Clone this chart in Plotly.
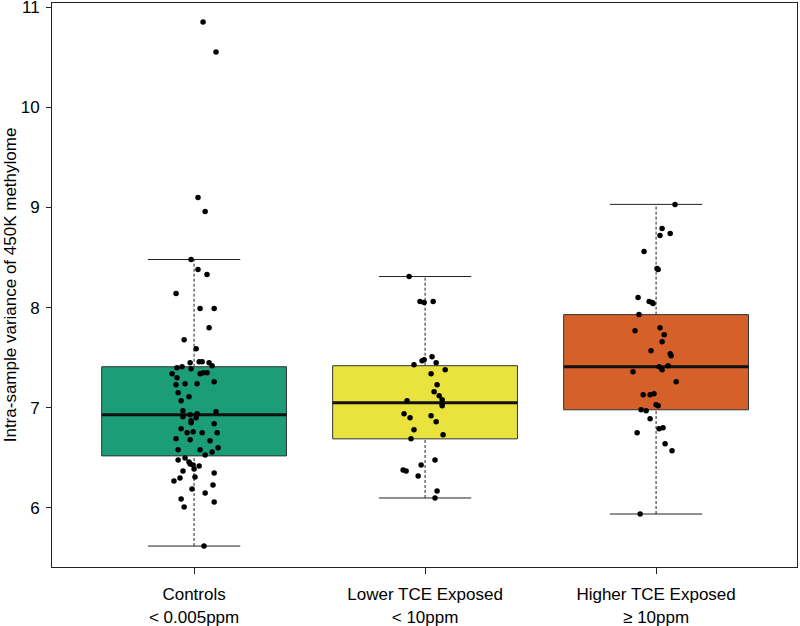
import plotly.graph_objects as go

# ---------------- data ----------------
categories = ["Controls<br>< 0.005ppm", "Lower TCE Exposed<br>< 10ppm", "Higher TCE Exposed<br>≥ 10ppm"]
positions = [1, 2, 3]
box_colors = ["#1B9E77", "#EAE33E", "#D6602A"]

# box statistics
q1_vals = [6.52, 6.69, 6.98]
median_vals = [6.93, 7.05, 7.41]
q3_vals = [7.41, 7.42, 7.93]
lower_whisker = [5.62, 6.10, 5.94]
upper_whisker = [8.48, 8.31, 9.03]

# individual samples (value) and their horizontal jitter (category units)
controls_vals = [10.85, 10.55, 9.10, 8.96, 8.48, 8.38, 8.33, 8.14, 7.99, 7.99, 7.80, 7.68, 7.59,
                 7.46, 7.46, 7.45, 7.45, 7.42, 7.40, 7.41, 7.39, 7.34, 7.30, 7.34, 7.35, 7.35,
                 7.23, 7.24, 7.24, 7.26, 7.15, 7.11, 7.07, 6.97, 6.96, 6.94, 6.93, 6.91, 6.90,
                 6.87, 6.85, 6.84, 6.79, 6.75, 6.76, 6.75, 6.75, 6.69, 6.68, 6.67, 6.60, 6.58,
                 6.58, 6.56, 6.53, 6.48, 6.50, 6.46, 6.44, 6.43, 6.42, 6.39, 6.37, 6.35, 6.31,
                 6.30, 6.27, 6.23, 6.19, 6.15, 6.09, 6.06, 6.01, 5.62]
controls_jit = [0.039, 0.095, 0.017, 0.048, -0.013, 0.017, 0.056, -0.078, 0.026, 0.087, 0.065, -0.043, 0.009,
                0.022, 0.035, -0.017, 0.065, 0.078, -0.074, -0.052, -0.013, -0.095, -0.074, 0.026, 0.039, 0.056,
                -0.078, -0.039, 0.013, 0.087, -0.069, -0.022, -0.056, -0.048, 0.095, 0.013, -0.017, -0.048, 0.009,
                -0.013, -0.013, 0.087, -0.056, -0.030, -0.004, 0.035, 0.100, -0.078, -0.017, 0.069, 0.104, -0.069,
                0.026, 0.078, 0.048, -0.069, -0.039, -0.022, -0.017, -0.004, 0.022, 0.000, -0.048, 0.087, 0.004,
                -0.061, -0.087, 0.082, -0.009, 0.048, -0.056, 0.087, -0.043, 0.043]

lower_vals = [8.31, 8.06, 8.05, 8.06, 7.51, 7.47, 7.48, 7.45, 7.43, 7.38, 7.34, 7.23, 7.16, 7.12,
              7.08, 7.04, 7.02, 7.07, 6.94, 6.90, 6.92, 6.86, 6.78, 6.73, 6.69, 6.48, 6.43, 6.38,
              6.37, 6.32, 6.17, 6.10]
lower_jit = [-0.069, -0.022, -0.004, 0.035, 0.030, -0.013, -0.004, 0.048, -0.048, 0.087, 0.026, 0.052, 0.039, 0.061,
             0.074, 0.074, 0.074, -0.078, -0.091, -0.065, 0.026, 0.048, -0.048, 0.078, -0.061, 0.043, -0.017, -0.095,
             -0.082, -0.030, 0.052, 0.043]

higher_vals = [9.03, 8.79, 8.74, 8.72, 8.56, 8.39, 8.38, 8.10, 8.06, 8.05, 8.04, 7.93, 7.80, 7.77,
               7.73, 7.66, 7.57, 7.54, 7.52, 7.42, 7.41, 7.38, 7.36, 7.26, 7.13, 7.13, 7.14, 7.03,
               7.02, 6.98, 6.97, 6.89, 6.79, 6.80, 6.75, 6.64, 6.57, 5.94]
higher_jit = [0.082, 0.026, 0.061, 0.017, -0.052, 0.004, 0.009, -0.078, -0.030, -0.017, -0.013, -0.074, 0.017, -0.091,
              0.035, 0.026, -0.022, 0.061, 0.065, 0.052, 0.013, 0.026, -0.100, 0.087, -0.056, -0.026, -0.009, 0.000,
              0.009, -0.065, -0.043, -0.026, 0.013, 0.030, -0.082, 0.039, 0.069, -0.069]

y_ticks = [6, 7, 8, 9, 10, 11]
y_title = "Intra-sample variance of 450K methylome"

# ---------------- figure ----------------
FONT = "Liberation Sans, Arial, Helvetica, sans-serif"
box_w = 0.8
cap_w = 0.4

fig = go.Figure()
shapes = []
for pos, col, q1, med, q3, lo, hi in zip(positions, box_colors, q1_vals, median_vals, q3_vals,
                                         lower_whisker, upper_whisker):
    # whiskers (dashed)
    shapes.append(dict(type="line", xref="x", yref="y", x0=pos, x1=pos, y0=q3, y1=hi,
                       line=dict(color="#222", width=1, dash="3px,2px"), layer="below"))
    shapes.append(dict(type="line", xref="x", yref="y", x0=pos, x1=pos, y0=lo, y1=q1,
                       line=dict(color="#222", width=1, dash="3px,2px"), layer="below"))
    # staples
    for v in (lo, hi):
        shapes.append(dict(type="line", xref="x", yref="y", x0=pos - cap_w / 2, x1=pos + cap_w / 2,
                           y0=v, y1=v, line=dict(color="#222", width=1), layer="below"))
    # box
    shapes.append(dict(type="rect", xref="x", yref="y", x0=pos - box_w / 2, x1=pos + box_w / 2,
                       y0=q1, y1=q3, fillcolor=col, line=dict(color="#333", width=1), layer="below"))
    # median
    shapes.append(dict(type="line", xref="x", yref="y", x0=pos - box_w / 2, x1=pos + box_w / 2,
                       y0=med, y1=med, line=dict(color="#111", width=3), layer="below"))

for pos, vals, jit in zip(positions, [controls_vals, lower_vals, higher_vals],
                          [controls_jit, lower_jit, higher_jit]):
    fig.add_trace(go.Scatter(
        x=[pos + j for j in jit], y=vals, mode="markers",
        marker=dict(color="black", size=5.5, line=dict(width=0)),
        showlegend=False, hoverinfo="y"))

fig.update_layout(
    width=800, height=626,
    margin=dict(l=52, r=3, t=3, b=59, autoexpand=False),
    paper_bgcolor="white", plot_bgcolor="white",
    font=dict(family=FONT, color="black"),
    shapes=shapes,
    showlegend=False,
    xaxis=dict(range=[0.385, 3.61], tickmode="array", tickvals=positions, ticktext=categories,
               showgrid=False, zeroline=False, showline=True, mirror=True, linecolor="#222", linewidth=1,
               ticks="outside", ticklen=6, tickcolor="#222", ticklabelstandoff=6,
               tickfont=dict(size=17, family=FONT), automargin=False, ticklabeloverflow="allow"),
    yaxis=dict(range=[5.411, 11.04], tickmode="array", tickvals=y_ticks,
               ticktext=[str(t) for t in y_ticks],
               showgrid=False, zeroline=False, showline=True, mirror=True, linecolor="#222", linewidth=1,
               ticks="outside", ticklen=5, tickcolor="#222", ticklabelstandoff=3,
               tickfont=dict(size=17, family=FONT), automargin=False, ticklabeloverflow="allow"),
    annotations=[dict(text=y_title, xref="paper", yref="paper", x=-0.056, y=0.5,
                      xanchor="center", yanchor="middle", textangle=-90, showarrow=False,
                      font=dict(size=17, family=FONT, color="black"))],
)

fig.write_html("out.html", config={"displayModeBar": False},
               post_script="document.body.style.margin='0';")
